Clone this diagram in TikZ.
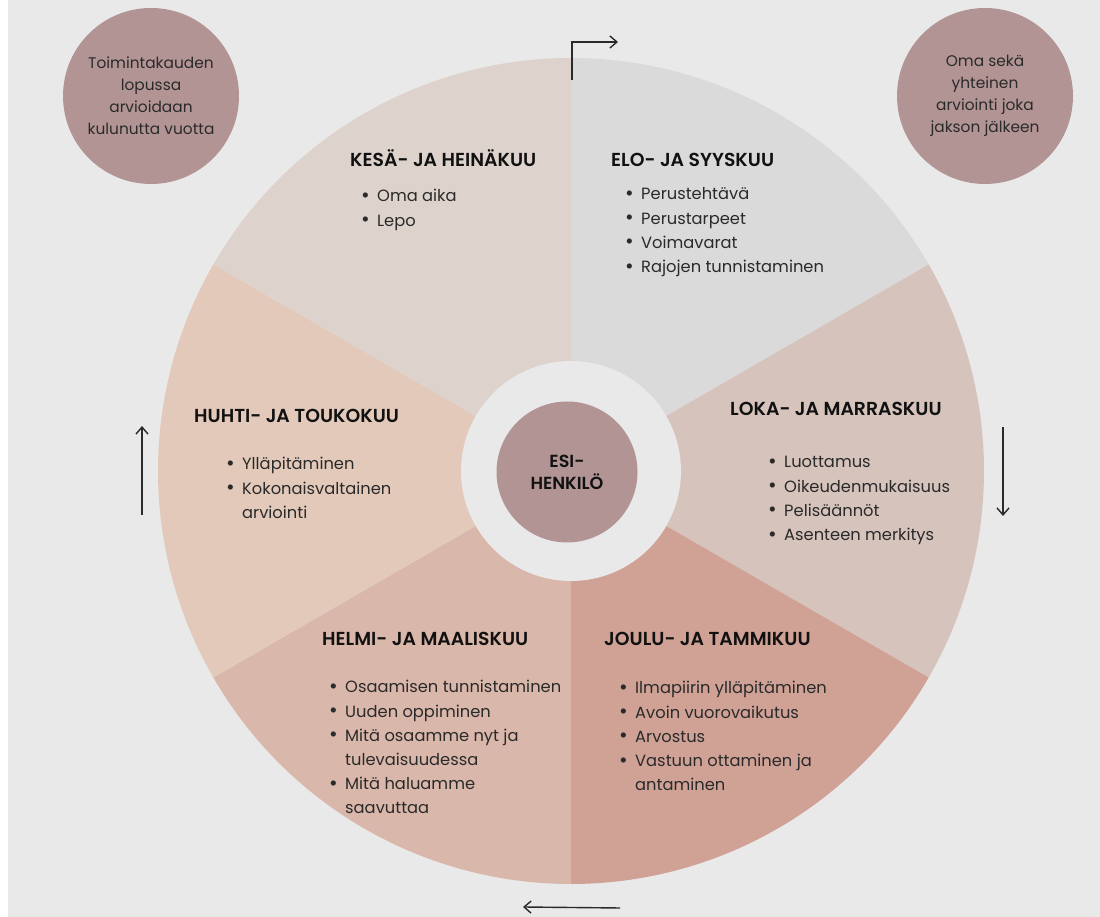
\documentclass[tikz,border=0pt]{standalone}
\usepackage{fontspec}
\setmainfont{Poppins}[BoldFont={Poppins SemiBold}]
\usetikzlibrary{arrows.meta}
\definecolor{bg}{HTML}{E9E9E9}
\definecolor{cElo}{HTML}{DADADA}
\definecolor{cKesa}{HTML}{DDD3CC}
\definecolor{cHuhti}{HTML}{E2C9BA}
\definecolor{cHelmi}{HTML}{D9B7AA}
\definecolor{cJoulu}{HTML}{D0A296}
\definecolor{cLoka}{HTML}{D5C3BC}
\definecolor{mauve}{HTML}{B39494}
\definecolor{txt}{HTML}{2A2A2A}
\definecolor{head}{HTML}{111111}
\definecolor{pen}{HTML}{2A2A2A}
\newcommand\bi{\makebox[16pt][l]{{\fontsize{21}{21}\selectfont\raisebox{-0.5pt}{\textbullet}}}}
\newcommand\bc{\makebox[16pt][l]{}}
\newcommand\itl[1]{\begin{tabular}[t]{@{}l@{}}#1\end{tabular}}
\tikzset{
  heading/.style={anchor=base west, inner sep=0pt, font=\fontsize{18.8}{22}\selectfont\bfseries, text=head},
  items/.style={anchor=base west, inner sep=0pt, font=\fontsize{16.3}{24.2}\selectfont, text=txt},
  bubble/.style={circle, fill=mauve, minimum size=176pt, inner sep=0pt, align=center, font=\fontsize{15.4}{22}\selectfont, text=txt},
  hand/.style={draw=pen, line width=1.4pt, -{Straight Barb[length=7pt,width=12pt,line width=1.4pt]}}
}
\begin{document}
\begin{tikzpicture}[x=1pt,y=1pt]
\useasboundingbox (0,0) rectangle (1100,917);
\fill[white] (0,0) rectangle (1100,917);
\fill[bg] (8,0) rectangle (1100,917);
\coordinate (C) at (571,446);
\def\R{413}
\fill[cElo]   (C) -- ++(90:\R)  arc[start angle=90,  end angle=30,   radius=\R] -- cycle;
\fill[cLoka]  (C) -- ++(30:\R)  arc[start angle=30,  end angle=-30,  radius=\R] -- cycle;
\fill[cJoulu] (C) -- ++(-30:\R) arc[start angle=-30, end angle=-90,  radius=\R] -- cycle;
\fill[cHelmi] (C) -- ++(-90:\R) arc[start angle=-90, end angle=-150, radius=\R] -- cycle;
\fill[cHuhti] (C) -- ++(210:\R) arc[start angle=210, end angle=150,  radius=\R] -- cycle;
\fill[cKesa]  (C) -- ++(150:\R) arc[start angle=150, end angle=90,   radius=\R] -- cycle;
\fill[bg] (C) circle[radius=110];
\node[circle, fill=mauve, minimum size=141pt, inner sep=0pt, align=center,
      font=\fontsize{17.5}{22}\selectfont\bfseries, text=head] (esi) at (567,445) {ESI-\\HENKILÖ};

\node[bubble] (left) at (151,821) {Toimintakauden\\lopussa\\arvioidaan\\kulunutta vuotta};
\node[bubble] (right) at (985,821) {Oma sekä\\yhteinen\\arviointi joka\\jakson jälkeen};

% KESÄ
\node[heading] (hKesa) at (350,750) {KESÄ- JA HEINÄKUU};
\node[items] (iKesa) at (361,715) {\itl{\bi Oma aika\\\bi Lepo}};
% ELO
\node[heading] (hElo) at (611,750) {ELO- JA SYYSKUU};
\node[items] (iElo) at (625,717) {\itl{\bi Perustehtävä\\\bi Perustarpeet\\\bi Voimavarat\\\bi Rajojen tunnistaminen}};
% HUHTI
\node[heading] (hHuhti) at (194,494) {HUHTI- JA TOUKOKUU};
\node[items] (iHuhti) at (226,447) {\itl{\bi Ylläpitäminen\\\bi Kokonaisvaltainen\\\bc arviointi}};
% LOKA
\node[heading] (hLoka) at (730,501) {LOKA- JA MARRASKUU};
\node[items] (iLoka) at (768,449) {\itl{\bi Luottamus\\\bi Oikeudenmukaisuus\\\bi Pelisäännöt\\\bi Asenteen merkitys}};
% HELMI
\node[heading] (hHelmi) at (322,271) {HELMI- JA MAALISKUU};
\node[items] (iHelmi) at (329,224) {\itl{\bi Osaamisen tunnistaminen\\\bi Uuden oppiminen\\\bi Mitä osaamme nyt ja\\\bc tulevaisuudessa\\\bi Mitä haluamme\\\bc saavuttaa}};
% JOULU
\node[heading] (hJoulu) at (604,271) {JOULU- JA TAMMIKUU};
\node[items] (iJoulu) at (619,223) {\itl{\bi Ilmapiirin ylläpitäminen\\\bi Avoin vuorovaikutus\\\bi Arvostus\\\bi Vastuun ottaminen ja\\\bc antaminen}};

% hand-drawn arrows
\coordinate (t0) at (572,837);
\coordinate (t1) at (572,875);
\coordinate (t2) at (618,875);
\draw[hand] (t0) -- (t1) -- (t2);
\coordinate (l0) at (142,402);
\coordinate (l1) at (142,491);
\draw[hand] (l0) -- (l1);
\coordinate (r0) at (1003,490);
\coordinate (r1) at (1003,401);
\draw[hand] (r0) -- (r1);
\coordinate (b0) at (620,9);
\coordinate (b1) at (523,10);
\draw[hand] (b0) -- (b1);
\end{tikzpicture}
\end{document}
